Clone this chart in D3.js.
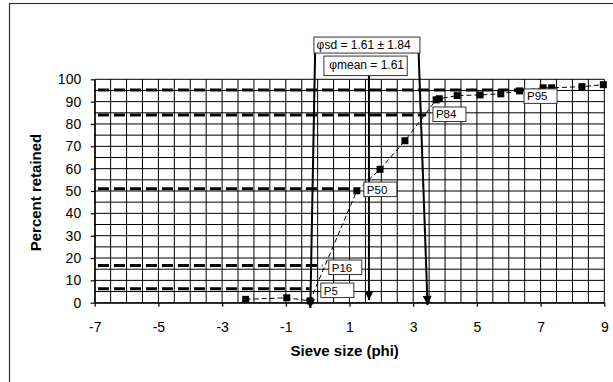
<!DOCTYPE html>
<html>
<head>
<meta charset="utf-8">
<script src="https://cdn.jsdelivr.net/npm/d3@7"></script>
<style>
  body { margin: 0; background: #fff; }
  text { font-family: Arial, "Liberation Sans", sans-serif; fill: #000; }
</style>
</head>
<body>
<div class="sieve_chart"></div>
<script>
// sieve data
var sievePhi = [-2.26, -0.97, -0.24, 1.23, 1.96, 2.74, 3.72, 3.82, 4.38, 5.10, 5.75, 6.34, 7.08, 7.35, 8.30, 8.97];
var pctRetained = [1.5, 2.2, 0.8, 50.1, 59.7, 72.5, 90.8, 91.3, 92.7, 93.0, 93.5, 94.8, 96.2, 96.2, 96.7, 97.6];

var xTicks = [-7, -5, -3, -1, 1, 3, 5, 7, 9];
var yTicks = [0, 10, 20, 30, 40, 50, 60, 70, 80, 90, 100];

// percentile guide lines
var pctNames = ["P5", "P16", "P50", "P84", "P95"];
var pctLevels = [6.3, 16.7, 51.0, 84.0, 95.2];
var pctLineEnd = [-0.25, 0.15, 1.0, 3.41, 6.48];
var pctLabelPhi = [0.10, 0.35, 1.45, 3.62, 6.48];
var pctLabelTop = [8.8, 19.1, 54.0, 87.6, 95.7];

// phi mean / sd arrows
var phiMean = 1.61;
var phiSd = 1.84;
var arrowTopPhi = [phiMean - phiSd + 0.15, phiMean, phiMean + phiSd - 0.28];
var arrowEndPhi = [phiMean - phiSd, phiMean, phiMean + phiSd];
var arrowTopPct = [111.8, 101.6, 111.8];
var arrowEndPct = [-2.4, 1.2, -1.0];

var svgWidth = 613;
var svgHeight = 382;

var margin = { top: 79.3, right: 8.7, bottom: 79.3, left: 94.7 };
var width = svgWidth - margin.left - margin.right;
var height = svgHeight - margin.top - margin.bottom;

var svg = d3.select(".sieve_chart")
  .append("svg")
  .attr("width", svgWidth)
  .attr("height", svgHeight);

// outer chart border (runs off the right and bottom)
svg.append("rect")
  .attr("x", 9.5)
  .attr("y", 3.5)
  .attr("width", 700)
  .attr("height", 500)
  .attr("fill", "none")
  .attr("stroke", "#333")
  .attr("stroke-width", 1.2);

var chartGroup = svg.append("g")
  .attr("transform", `translate(${margin.left}, ${margin.top})`);

var xScale = d3.scaleLinear().domain([-7, 9]).range([0, width]);
var yScale = d3.scaleLinear().domain([0, 100]).range([height, 0]);

// grid
chartGroup.append("g")
  .selectAll("line")
  .data(d3.range(-7, 9.01, 0.5))
  .enter()
  .append("line")
  .attr("x1", d => xScale(d))
  .attr("x2", d => xScale(d))
  .attr("y1", 0)
  .attr("y2", height)
  .attr("stroke", "#000")
  .attr("stroke-width", 1);

chartGroup.append("g")
  .selectAll("line")
  .data(d3.range(0, 100.1, 5))
  .enter()
  .append("line")
  .attr("x1", 0)
  .attr("x2", width)
  .attr("y1", d => yScale(d))
  .attr("y2", d => yScale(d))
  .attr("stroke", "#000")
  .attr("stroke-width", 1);

// axes (plain hyphen for negatives, like the original)
var bottomAxis = d3.axisBottom(xScale).tickValues(xTicks).tickFormat(d => String(d))
  .tickSize(4).tickPadding(15).tickSizeOuter(0);
var leftAxis = d3.axisLeft(yScale).tickValues(yTicks).tickFormat(d => String(d))
  .tickSize(4).tickPadding(9.5).tickSizeOuter(0);

var xAxis = chartGroup.append("g")
  .attr("transform", `translate(0,${height})`)
  .call(bottomAxis);

var yAxis = chartGroup.append("g").call(leftAxis);

[xAxis, yAxis].forEach(function (ax) {
  ax.attr("font-family", null).attr("font-size", null);
  ax.selectAll("text").style("font-size", "14px").attr("fill", "#000");
  ax.selectAll("line, path").attr("stroke", "#000").attr("stroke-width", 1.2);
});

// percentile dashed lines
chartGroup.append("g")
  .selectAll("line")
  .data(pctLevels)
  .enter()
  .append("line")
  .attr("x1", xScale(-6.9))
  .attr("x2", (d, i) => xScale(pctLineEnd[i]))
  .attr("y1", d => yScale(d))
  .attr("y2", d => yScale(d))
  .attr("stroke", "#000")
  .attr("stroke-width", 3)
  .attr("stroke-dasharray", "11,5");

// cumulative curve
var points = sievePhi.map((d, i) => [d, pctRetained[i]]);

chartGroup.append("path")
  .datum(points)
  .attr("fill", "none")
  .attr("stroke", "#000")
  .attr("stroke-width", 1)
  .attr("stroke-dasharray", "5,3")
  .attr("d", d3.line().x(d => xScale(d[0])).y(d => yScale(d[1])));

chartGroup.append("g")
  .selectAll("rect")
  .data(points)
  .enter()
  .append("rect")
  .attr("x", d => xScale(d[0]) - 3.5)
  .attr("y", d => yScale(d[1]) - 3.5)
  .attr("width", 7)
  .attr("height", 7)
  .attr("fill", "#000");

// arrows
svg.append("defs").append("marker")
  .attr("id", "arrowhead")
  .attr("viewBox", "0 0 10 10")
  .attr("refX", 10)
  .attr("refY", 5)
  .attr("markerUnits", "userSpaceOnUse")
  .attr("markerWidth", 10)
  .attr("markerHeight", 9)
  .attr("orient", "auto")
  .append("path")
  .attr("d", "M0,0L10,5L0,10Z")
  .attr("fill", "#000");

chartGroup.append("g")
  .selectAll("line")
  .data(arrowEndPhi)
  .enter()
  .append("line")
  .attr("x1", (d, i) => xScale(arrowTopPhi[i]))
  .attr("y1", (d, i) => yScale(arrowTopPct[i]))
  .attr("x2", d => xScale(d))
  .attr("y2", (d, i) => yScale(arrowEndPct[i]))
  .attr("stroke", "#000")
  .attr("stroke-width", 2)
  .attr("marker-end", "url(#arrowhead)");

// text boxes
function addBox(x, y, w, h, label, fontSize, padX, baseY) {
  var g = chartGroup.append("g");
  g.append("rect")
    .attr("x", x)
    .attr("y", y)
    .attr("width", w)
    .attr("height", h)
    .attr("fill", "#fff")
    .attr("stroke", "#333")
    .attr("stroke-width", 1);
  g.append("text")
    .attr("x", x + padX)
    .attr("y", y + baseY)
    .style("font-size", fontSize + "px")
    .text(label);
}

pctNames.forEach(function (name, i) {
  addBox(xScale(pctLabelPhi[i]), yScale(pctLabelTop[i]), 33, 14.5, name, 11.5, 3, 11.5);
});

addBox(xScale(phiMean) - 55, yScale(118.9), 106, 16, "φsd = " + phiMean.toFixed(2) + " ± " + phiSd.toFixed(2), 12, 2.7, 12.3);
addBox(xScale(phiMean) - 45, yScale(110.4), 83.3, 19.5, "φmean = " + phiMean.toFixed(2), 12, 5.3, 13);

// axis titles
svg.append("text")
  .attr("x", 344.7)
  .attr("y", 356)
  .attr("text-anchor", "middle")
  .style("font-size", "15px")
  .style("font-weight", "bold")
  .text("Sieve size (phi)");

svg.append("text")
  .attr("transform", "translate(40.5, 192.5) rotate(-90)")
  .attr("text-anchor", "middle")
  .style("font-size", "15px")
  .style("font-weight", "bold")
  .text("Percent retained");
</script>
</body>
</html>
